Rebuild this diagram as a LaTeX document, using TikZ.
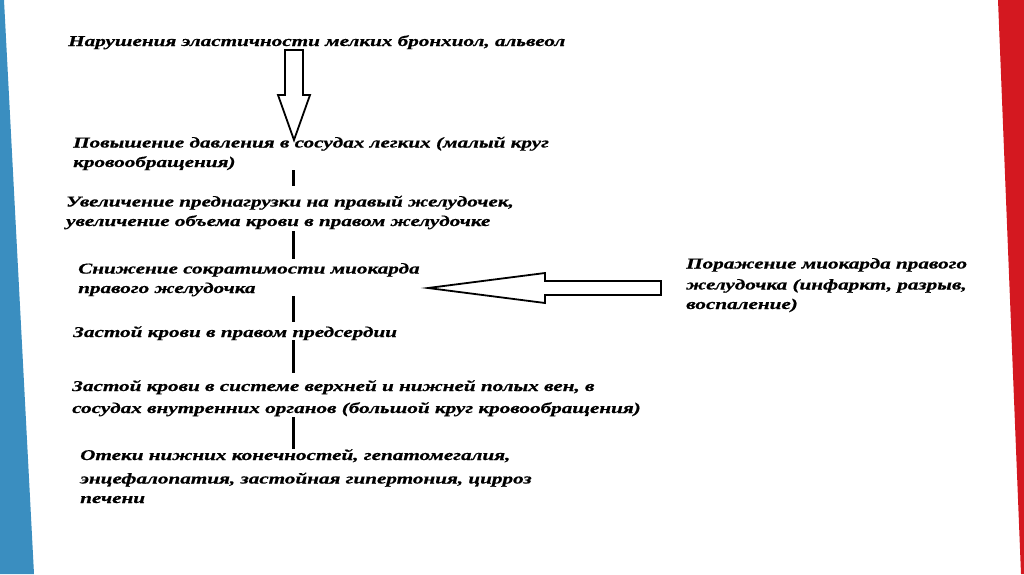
\documentclass[tikz,border=0pt]{standalone}
\usepackage{fontspec}
\setmainfont{Liberation Serif}[FakeStretch=1.41,FakeBold=0.7]
\usetikzlibrary{calc}
\definecolor{bandblue}{RGB}{58,142,192}
\definecolor{bandred}{RGB}{212,24,32}
\tikzset{
  txt/.style={anchor=base west, inner sep=0pt, align=left,
    font=\bfseries\itshape\fontsize{15}{19.5}\selectfont},
  link/.style={line width=3pt},
  hollow/.style={draw, line width=1.8pt, fill=white, line join=miter}
}
\begin{document}
\begin{tikzpicture}[x=1pt,y=-1pt]
\useasboundingbox (0,0) rectangle (1024,574);
\fill[white] (0,0) rectangle (1024,574);
% side bands
\fill[bandblue] (0,0) -- (4,0) -- (34,574) -- (0,574) -- cycle;
\fill[bandred] (998,0) -- (1024,0) -- (1024,574) -- (1021,574) -- cycle;

% texts (anchor = baseline of the last line)
\node[txt] (n1) at (68,46) {Нарушения эластичности мелких бронхиол, альвеол};
\node[txt] (n2) at (73,167) {Повышение давления в сосудах легких (малый круг\\кровообращения)};
\node[txt] (n3) at (66,226) {Увеличение преднагрузки на правый желудочек,\\увеличение объема крови в правом желудочке};
\node[txt] (n4) at (78,293) {Снижение сократимости миокарда\\правого желудочка};
\node[txt] (n5) at (73,337) {Застой крови в правом предсердии};
\node[txt] (n6) at (72,413) {Застой крови в системе верхней и нижней полых вен, в\\[2.5pt]сосудах внутренних органов (большой круг кровообращения)};
\node[txt] (n7) at (80,503) {Отеки нижних конечностей, гепатомегалия,\\[4pt]энцефалопатия, застойная гипертония, цирроз\\печени};
\node[txt] (r) at (686,309) {Поражение миокарда правого\\[1.5pt]желудочка (инфаркт, разрыв,\\воспаление)};

% axis
\coordinate (ax) at (293,0);
\coordinate (d1) at (294,50);
\coordinate (d2) at (294,140);
\coordinate (l1) at (661,288);
\coordinate (l2) at (428,288);

% down block arrow n1 -> n2
\draw[hollow] ($(d1)+(-9,0)$) -- ($(d1)+(9,0)$) -- ($(d1)+(9,45)$) -- ($(d1)+(16,45)$)
  -- (d2) -- ($(d1)+(-16,45)$) -- ($(d1)+(-9,45)$) -- cycle;

% left block arrow r -> n4
\draw[hollow] ($(l1)+(0,-7)$) -- ($(l1)+(0,7)$) -- ($(l2)+(117,7)$) -- ($(l2)+(117,15)$)
  -- (l2) -- ($(l2)+(117,-15)$) -- ($(l2)+(117,-7)$) -- cycle;

% vertical links
\draw[link, shorten >=9pt] (n2.south -| ax) -- (n3.north -| ax);
\draw[link, shorten <=2pt, shorten >=4pt] (n3.south -| ax) -- (n4.north -| ax);
\draw[link, shorten >=4pt] (n4.south -| ax) -- (n5.north -| ax);
\draw[link, shorten >=7pt] (n5.south -| ax) -- (n6.north -| ax);
\draw[link, shorten <=1pt] (n6.south -| ax) -- (n7.north -| ax);
\end{tikzpicture}
\end{document}
